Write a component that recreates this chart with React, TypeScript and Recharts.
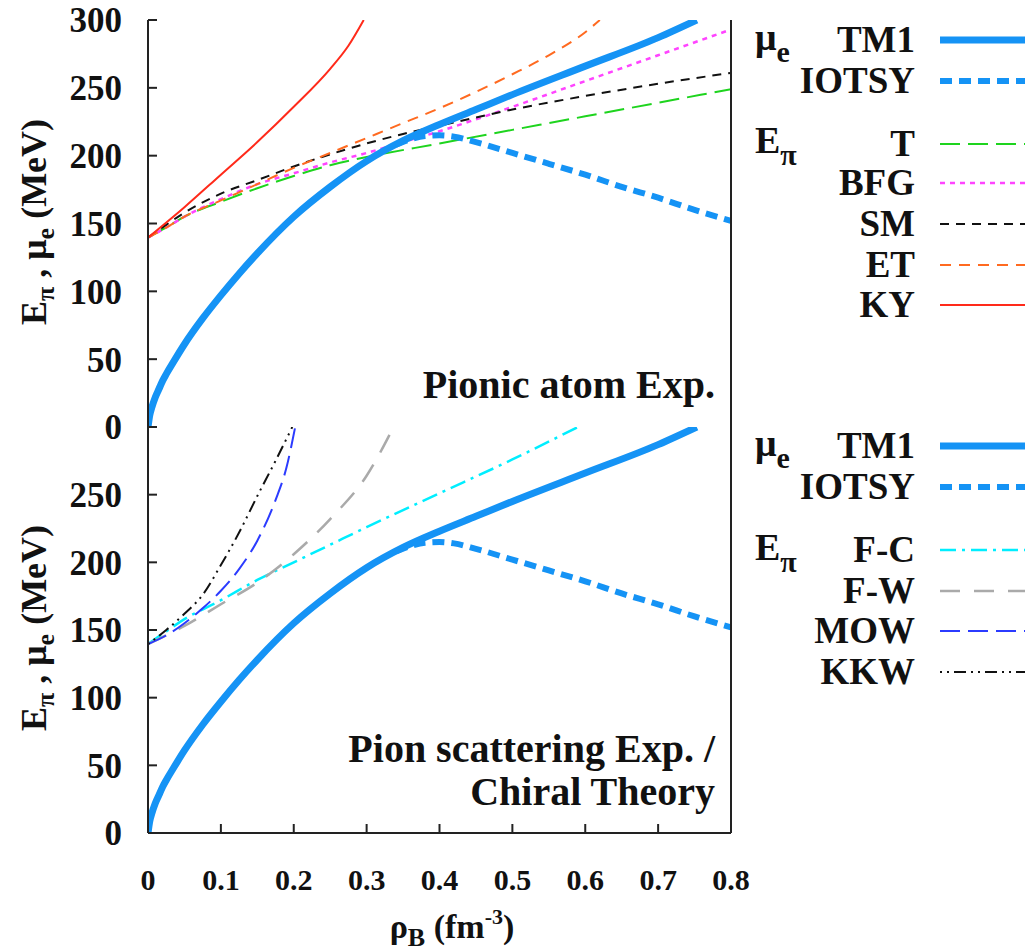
import React from "react";
import { LineChart, Line, XAxis, YAxis } from "recharts";

// density grid (fm^-3) and energies (MeV)
const rhoTicks = [0, 0.1, 0.2, 0.3, 0.4, 0.5, 0.6, 0.7, 0.8];
const eTicks = [0, 50, 100, 150, 200, 250, 300];

const tm1Rho = [0, 0.0025, 0.005, 0.01, 0.015, 0.02, 0.025, 0.035, 0.05, 0.075, 0.1, 0.125, 0.15, 0.2, 0.25, 0.3, 0.35, 0.4, 0.45, 0.5, 0.6, 0.7, 0.753];
const tm1Mu = [0, 9, 14, 22, 28, 34, 39, 48, 61, 80, 97, 113, 128, 155, 177, 196, 211, 223, 234, 245, 266, 287, 300];

const iotsyRho = [0.34, 0.36, 0.38, 0.4, 0.42, 0.45, 0.5, 0.55, 0.6, 0.65, 0.7, 0.75, 0.8];
const iotsyMu = [208, 212, 214.5, 215, 214, 210, 202, 194, 186, 177, 169, 160, 152];

// top panel: pionic atom
const tRho = [0, 0.025, 0.05, 0.1, 0.15, 0.2, 0.25, 0.3, 0.4, 0.5, 0.6, 0.7, 0.8];
const tE = [139.6, 147, 155, 166, 176, 185, 193, 199, 209, 219, 229, 239, 249];
const bfgRho = [0, 0.025, 0.05, 0.1, 0.15, 0.2, 0.25, 0.3, 0.35, 0.4, 0.5, 0.6, 0.7, 0.8];
const bfgE = [139.6, 147, 155, 168, 179, 187, 195, 202, 210, 218, 236, 255, 274, 293];
const smRho = [0, 0.025, 0.05, 0.1, 0.15, 0.2, 0.25, 0.3, 0.35, 0.4, 0.5, 0.6, 0.7, 0.8];
const smE = [139.6, 149, 158, 172, 182, 192, 201, 209, 216, 222, 234, 244, 253, 261];
const etRho = [0, 0.025, 0.05, 0.1, 0.15, 0.2, 0.25, 0.3, 0.35, 0.4, 0.45, 0.5, 0.55, 0.6, 0.62];
const etE = [139.6, 147, 155, 167, 179, 191, 202, 213, 224, 235, 247, 260, 274, 291, 300];
const kyRho = [0, 0.05, 0.1, 0.15, 0.2, 0.25, 0.275, 0.296];
const kyE = [139.6, 162, 186, 210, 236, 264, 281, 300];

// bottom panel: pion scattering / chiral theory
const fcRho = [0, 0.025, 0.05, 0.1, 0.15, 0.2, 0.25, 0.3, 0.4, 0.5, 0.59];
const fcE = [139.6, 149, 158, 172, 187, 200, 213, 226, 251, 276, 300];
const fwRho = [0, 0.05, 0.1, 0.15, 0.2, 0.25, 0.3, 0.337];
const fwE = [139.6, 153, 169, 185, 206, 232, 264, 300];
const mowRho = [0, 0.025, 0.05, 0.075, 0.1, 0.125, 0.15, 0.175, 0.19, 0.202];
const mowE = [139.6, 146, 155, 166, 179, 195, 216, 246, 270, 300];
const kkwRho = [0, 0.025, 0.05, 0.075, 0.1, 0.125, 0.15, 0.175, 0.198];
const kkwE = [139.6, 150, 162, 176, 198, 222, 249, 275, 300];

const pts = (xs: number[], ys: number[]) => xs.map((x, i) => ({ rho: x, e: ys[i] }));

const BLUE = "#1593f5";
const FONT = "'Liberation Serif', 'Times New Roman', serif";

type Series = { name: string; data: { rho: number; e: number }[]; color: string; width: number; dash?: string };

const muSeries: Series[] = [
  { name: "TM1", data: pts(tm1Rho, tm1Mu), color: BLUE, width: 7 },
  { name: "IOTSY", data: pts(iotsyRho, iotsyMu), color: BLUE, width: 6, dash: "12 7" },
];

const topSeries: Series[] = [
  { name: "T", data: pts(tRho, tE), color: "#1ed41e", width: 2, dash: "20 8" },
  { name: "BFG", data: pts(bfgRho, bfgE), color: "#ff44ff", width: 2.5, dash: "5 5" },
  { name: "SM", data: pts(smRho, smE), color: "#111111", width: 2, dash: "9 7" },
  { name: "ET", data: pts(etRho, etE), color: "#ff6a20", width: 2, dash: "11 8" },
  { name: "KY", data: pts(kyRho, kyE), color: "#ff2a1a", width: 2 },
];

const bottomSeries: Series[] = [
  { name: "F-C", data: pts(fcRho, fcE), color: "#00eeff", width: 2.5, dash: "16 6 3 6" },
  { name: "F-W", data: pts(fwRho, fwE), color: "#aaaaaa", width: 2.5, dash: "20 14" },
  { name: "MOW", data: pts(mowRho, mowE), color: "#2b3bff", width: 2, dash: "20 8" },
  { name: "KKW", data: pts(kkwRho, kkwE), color: "#111111", width: 2, dash: "2 5 2 5 12 5" },
];

const axisLine = { stroke: "#222", strokeWidth: 2 };
const tickLine = { stroke: "#222", strokeWidth: 2 };
const yTick = { fontSize: 35, fontWeight: "bold", fill: "#111", fontFamily: FONT };
const xTick = { fontSize: 30, fontWeight: "bold", fill: "#111", fontFamily: FONT };

function Panel({ series, top, height, margin, xLabels, hideTop }: {
  series: Series[]; top: number; height: number;
  margin: { top: number; right: number; bottom: number; left: number };
  xLabels: boolean; hideTop: boolean;
}) {
  const all = [...series, ...muSeries];
  return (
    <div style={{ position: "absolute", left: 0, top }}>
      <LineChart width={1029} height={height} margin={margin}>
        <XAxis
          dataKey="rho" type="number" domain={[0, 0.8]} ticks={rhoTicks} interval={0}
          height={xLabels ? 60 : 0} axisLine={axisLine} tickLine={tickLine}
          tickSize={-9} tickMargin={45} tick={xLabels ? xTick : false}
          tickFormatter={(v: number) => String(v)} allowDataOverflow
        />
        <XAxis
          xAxisId="t" orientation="top" type="number" domain={[0, 0.8]} ticks={rhoTicks} interval={0}
          height={0} axisLine={axisLine} tickLine={tickLine} tickSize={-9} tick={false}
          allowDataOverflow
        />
        <YAxis
          type="number" domain={[0, 300]} ticks={eTicks} width={100} interval={0}
          axisLine={axisLine} tickLine={tickLine} tickSize={-9} tickMargin={35} tick={yTick}
          tickFormatter={(v: number) => (hideTop && v === 300 ? "" : String(v))} allowDataOverflow
        />
        <YAxis
          yAxisId="r" orientation="right" type="number" domain={[0, 300]} ticks={eTicks} interval={0}
          width={10} axisLine={axisLine} tickLine={tickLine} tickSize={-9} tick={false}
          allowDataOverflow
        />
        {all.map((s) => (
          <Line
            key={s.name} data={s.data} dataKey="e" type="monotone" stroke={s.color}
            strokeWidth={s.width} strokeDasharray={s.dash} dot={false}
            isAnimationActive={false}
          />
        ))}
      </LineChart>
    </div>
  );
}

function LegendRow({ y, label, s }: { y: number; label: string; s: Series }) {
  return (
    <g>
      <text x={915} y={y + 12} textAnchor="end" fontSize={37} fontWeight="bold" fontFamily={FONT} fill="#111">
        {label}
      </text>
      <line x1={940} x2={1025} y1={y} y2={y} stroke={s.color} strokeWidth={s.width} strokeDasharray={s.dash} />
    </g>
  );
}

function YLabel({ cy }: { cy: number }) {
  return (
    <text
      x={0} y={0} transform={`translate(46 ${cy}) rotate(-90)`} textAnchor="middle"
      fontSize={36} fontWeight="bold" fontFamily={FONT} fill="#111"
    >
      E<tspan fontSize={26} dy={8}>π</tspan>
      <tspan dy={-8}> , μ</tspan>
      <tspan fontSize={26} dy={8}>e</tspan>
      <tspan dy={-8}> (MeV)</tspan>
    </text>
  );
}

function Overlay() {
  const muTop = [40, 81];
  const muBot = [446, 487];
  const topY = [144, 183, 224, 265, 305];
  const botY = [550, 591, 631, 672];
  const txt = { fontWeight: "bold" as const, fontFamily: FONT, fill: "#111" };
  return (
    <svg width={1029} height={952} style={{ position: "absolute", left: 0, top: 0, pointerEvents: "none" }}>
      <YLabel cy={222} />
      <YLabel cy={628} />

      {/* top legend */}
      <text x={755} y={50} fontSize={38} {...txt}>μ<tspan fontSize={30} dy={12}>e</tspan></text>
      <text x={755} y={153} fontSize={38} {...txt}>E<tspan fontSize={30} dy={12}>π</tspan></text>
      {muSeries.map((s, i) => <LegendRow key={s.name} y={muTop[i]} label={s.name} s={s} />)}
      {topSeries.map((s, i) => <LegendRow key={s.name} y={topY[i]} label={s.name} s={s} />)}

      {/* bottom legend */}
      <text x={755} y={456} fontSize={38} {...txt}>μ<tspan fontSize={30} dy={12}>e</tspan></text>
      <text x={755} y={560} fontSize={38} {...txt}>E<tspan fontSize={30} dy={12}>π</tspan></text>
      {muSeries.map((s, i) => <LegendRow key={s.name} y={muBot[i]} label={s.name} s={s} />)}
      {bottomSeries.map((s, i) => <LegendRow key={s.name} y={botY[i]} label={s.name} s={s} />)}

      {/* panel notes */}
      <text x={715} y={398} textAnchor="end" fontSize={40} {...txt}>Pionic atom Exp.</text>
      <text x={715} y={762} textAnchor="end" fontSize={40} {...txt}>Pion scattering Exp. /</text>
      <text x={715} y={805} textAnchor="end" fontSize={40} {...txt}>Chiral Theory</text>

      {/* x title */}
      <text x={452} y={938} textAnchor="middle" fontSize={34} {...txt}>
        ρ<tspan fontSize={26} dy={8}>B</tspan>
        <tspan dy={-8}> (fm</tspan>
        <tspan fontSize={22} dy={-14}>-3</tspan>
        <tspan dy={14}>)</tspan>
      </text>
    </svg>
  );
}

export default function App() {
  return (
    <div style={{ position: "absolute", left: 0, top: 0, width: 1029, height: 952, background: "#fff" }}>
      <Panel series={topSeries} top={0} height={470}
        margin={{ top: 20, right: 288, bottom: 43, left: 48 }} xLabels={false} hideTop={false} />
      <Panel series={bottomSeries} top={400} height={552}
        margin={{ top: 27, right: 288, bottom: 59, left: 48 }} xLabels hideTop />
      <Overlay />
    </div>
  );
}
